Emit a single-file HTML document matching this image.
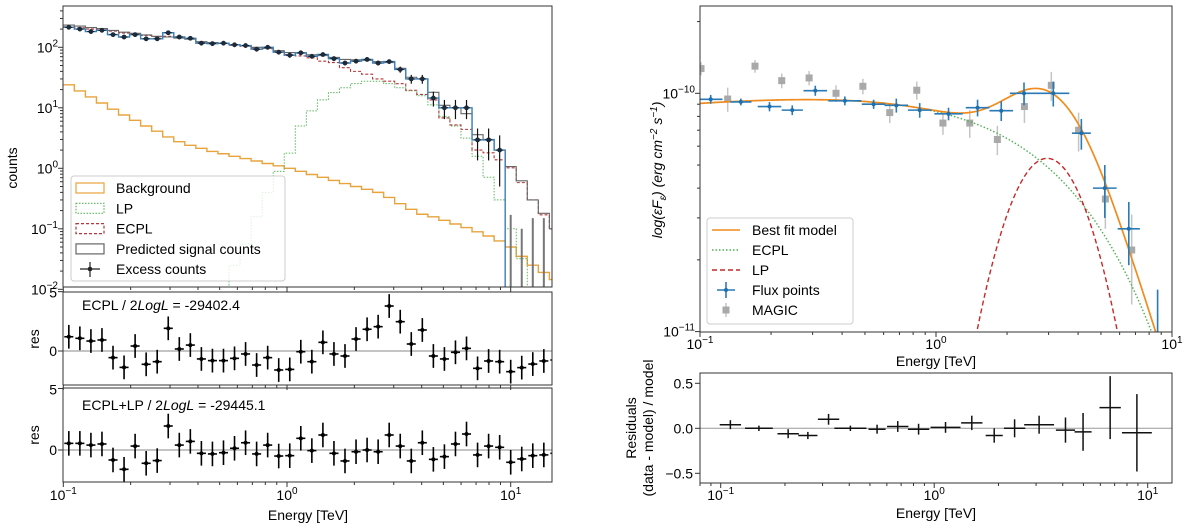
<!DOCTYPE html>
<html><head><meta charset="utf-8"><style>
html,body{margin:0;padding:0;background:#fff}
svg{display:block;font-family:"Liberation Sans","DejaVu Sans",sans-serif}
</style></head><body>
<svg id="fig" width="1200" height="528" viewBox="0 0 1200 528" xmlns="http://www.w3.org/2000/svg">
<defs>
<clipPath id="cM"><rect x="63" y="6" width="489" height="281"/></clipPath>
<clipPath id="cR1"><rect x="63" y="292" width="489" height="93"/></clipPath>
<clipPath id="cR2"><rect x="63" y="388" width="489" height="94"/></clipPath>
<clipPath id="cF"><rect x="700" y="6" width="472" height="326"/></clipPath>
<clipPath id="cFR"><rect x="700" y="373" width="472" height="110"/></clipPath>
</defs>
<g id="root"></g>
</svg>
<script>
// ---------- Left panel data (counts per bin, log bins from 0.1 TeV) ----------
const binsPerDecade = 20.25;
const excessCounts = [214,200,182,191,162,148,162,138,138,174,148,141,117,115,117,110,107,93,100,83,74,81,71,76,65,55,59,63,55,58,43,30,30,14.5,10,10,10,2.95,2.95,2.0,-0.5,-0.6,-0.5,-0.55,-0.5,-0.5];
const excessErrors = [16,15,14,14,13,12,13,11,11,13,12,11,10,10,10,9,9,8,8,7,7,7,6,6,6,5,5,5,5,5,5,5,5,4,3.5,3.5,3.5,1.6,1.6,1.5,0.67,0.7,0.65,0.7,0.6,0.6];
const predictedCounts = [233,224,212,204,190,178,170,160,152,148,142,136,124,120,116,110,106,100,96,88,82,80,75,73,68,63,62,61,58,56,45,32,30,18,11,10,8,3.6,3.0,2.0,1.07,0.62,0.30,0.18,0.10,0.08];
const ecplCounts = [218,210,200,195,185,172,166,157,150,152,146,140,122,118,115,108,104,98,95,85,76,72,67,59,56,46,40,36,30,27.5,25,19.5,16.6,13.5,6.8,5.2,4.4,2.0,1.8,1.38,1.02,0.58,0.30,0.17,0.10,0.08];
const lpCounts = [0,0,0,0,0,0,0,0,0,0,0,0,0,0,0.004,0.025,0.056,0.158,0.40,0.89,1.78,5.0,8.9,13.5,17.8,21.4,25.1,27.5,27.5,25.1,21.4,19.1,15.8,11.2,7.1,5.0,3.16,1.58,0.71,0.30,0.10,0.032,0.006,0.001,0,0];
const bkgCounts = [24,19,15.1,12,9.5,7.6,6.2,5.0,4.1,3.3,2.75,2.4,2.14,1.9,1.74,1.58,1.45,1.32,1.2,1.1,1.0,0.89,0.79,0.71,0.63,0.56,0.50,0.45,0.40,0.33,0.26,0.21,0.174,0.158,0.138,0.12,0.105,0.089,0.076,0.063,0.05,0.035,0.025,0.019,0.0145,0.008];
const resECPL = [1.2,1.07,0.84,0.93,-0.56,-1.38,0.42,-1.12,-0.9,1.91,0.17,0.5,-0.67,-0.81,-0.81,-0.62,-0.25,-1.18,-0.56,-1.6,-1.55,-0.06,-0.9,0.73,-0.25,-0.42,1.01,1.83,2.05,3.79,2.47,0.59,1.77,-0.42,-0.67,-0.11,0.22,-1.46,-0.84,-0.9,-1.74,-1.4,-1.1,-0.84,-0.76,-0.7];
const resECPLLP = [0.54,0.54,0.4,0.49,-0.81,-1.57,0.32,-1.08,-0.86,1.95,0.4,0.7,-0.27,-0.32,-0.22,0.14,0.59,-0.32,0.4,-0.49,-0.46,0.95,-0.05,1.22,-0.27,-0.89,-0.14,0,-0.14,1.22,0.32,-0.89,0.59,-0.76,-0.54,0.49,1.3,-0.4,0.32,0.22,-1.0,-0.73,-0.46,-0.4,-0.27,-0.25];

// ---------- Right panel data ----------
const fluxE = [0.111,0.149,0.197,0.246,0.308,0.411,0.544,0.679,0.853,1.13,1.50,1.89,2.36,3.14,4.13,5.19,6.56,8.69];
const fluxF = [9.44e-11,9.2e-11,8.8e-11,8.5e-11,1.026e-10,9.3e-11,9.0e-11,8.9e-11,8.5e-11,8.2e-11,8.7e-11,8.45e-11,1.0e-10,1.0e-10,6.8e-11,4.0e-11,2.7e-11,9e-12];
const fluxFerr = [0.4e-11,0.3e-11,0.4e-11,0.4e-11,0.5e-11,0.4e-11,0.4e-11,0.6e-11,0.6e-11,0.5e-11,0.7e-11,0.8e-11,1.1e-11,1.2e-11,1.0e-11,1.0e-11,0.8e-11,0.6e-11];
const fluxEwidth = [0.05,0.045,0.05,0.045,0.05,0.07,0.05,0.05,0.05,0.06,0.05,0.05,0.06,0.068,0.04,0.05,0.047,0.04];
const magicE = [0.101,0.131,0.171,0.222,0.290,0.377,0.49,0.637,0.829,1.07,1.39,1.82,2.37,3.08,4.02,5.22,6.75];
const magicF = [1.27e-10,9.46e-11,1.30e-10,1.13e-10,1.16e-10,1.0e-10,1.07e-10,8.3e-11,1.03e-10,7.5e-11,7.5e-11,6.4e-11,8.8e-11,1.08e-10,7.0e-11,3.6e-11,2.2e-11];
const magicErr = [0.8e-11,1.1e-11,0.8e-11,0.8e-11,0.8e-11,0.8e-11,0.8e-11,0.8e-11,0.9e-11,0.8e-11,1.0e-11,0.9e-11,1.3e-11,1.5e-11,1.3e-11,0.9e-11,0.9e-11];
const ecplParams = [-9.937, 0.0912, 3.1];
const lpParams = [-10.273, 0.471, 8.2];
const resE = [0.111,0.151,0.207,0.256,0.32,0.405,0.54,0.675,0.845,1.13,1.50,1.91,2.38,3.10,4.12,4.98,6.67,8.9];
const resVal = [0.04,0.0,-0.06,-0.08,0.1,0.0,-0.01,0.02,-0.01,0.01,0.06,-0.08,0.0,0.04,-0.02,-0.04,0.23,-0.05];
const resErr = [0.05,0.03,0.05,0.04,0.06,0.03,0.05,0.06,0.06,0.06,0.08,0.08,0.1,0.1,0.14,0.21,0.35,0.43];
const resEwidth = [0.05,0.065,0.05,0.045,0.05,0.075,0.04,0.05,0.05,0.07,0.05,0.04,0.05,0.07,0.045,0.04,0.05,0.07];

// ---------- axes ----------
const L10 = Math.log10;
const xl = e => 63.3 + (L10(e) + 1) * 223.7;
const ym = c => 168.3 - L10(c) * 60.5;
const yr1 = v => 351 - v * 11.87;
const yr2 = v => 450 - v * 12.3;
const xr = e => 700 + (L10(e) + 1) * 236;
const yr = f => 93.3 - (L10(f) + 10) * 238.3;
const xrr = e => 720.7 + (L10(e) + 1) * 213.5;
const yrr = v => 428.3 - v * 90;

const NS = "http://www.w3.org/2000/svg";
const root = document.getElementById('root');
function el(tag, attrs, parent) {
  const e = document.createElementNS(NS, tag);
  for (const k in attrs) e.setAttribute(k, attrs[k]);
  (parent || root).appendChild(e);
  return e;
}
function grp(name, clip) {
  const g = el('g', clip ? {'clip-path': 'url(#' + clip + ')'} : {});
  
  
  return g;
}
function pow10Label(x, y, exp, anchor, g, name) {
  const t = el('text', {x: x, y: y, 'font-size': 14, 'text-anchor': anchor, fill: '#000'}, g);
  
  
  const a = el('tspan', {}, t); a.textContent = '10';
  const b = el('tspan', {dy: -6, 'font-size': 10}, t); b.textContent = exp;
  return t;
}
function edge(i) { return Math.pow(10, -1 + i / binsPerDecade); }
const yClamp = c => c > 0 ? ym(c) : 300;

// ---------- LEFT MAIN ----------
function stepPath(vals, xf, yf, n) {
  let d = '';
  for (let i = 0; i < n; i++) {
    const y = yf(vals[i]);
    if (i === 0) d += 'M' + xf(edge(0)) + ',' + y;
    else d += 'V' + y;
    d += 'H' + xf(edge(i + 1));
  }
  return d;
}
const gM = grp('counts-plot-area', 'cM');
let p;
p = el('path', {d: stepPath(bkgCounts, xl, yClamp, bkgCounts.length), fill: 'none', stroke: '#e8a33d', 'stroke-width': 1.4}, gM);
 
p = el('path', {d: stepPath(lpCounts, xl, yClamp, lpCounts.length), fill: 'none', stroke: '#5cb85c', 'stroke-width': 1, 'stroke-dasharray': '1.5,1.5'}, gM);
 
p = el('path', {d: stepPath(ecplCounts, xl, yClamp, ecplCounts.length), fill: 'none', stroke: '#b5363a', 'stroke-width': 1.1, 'stroke-dasharray': '3,2'}, gM);
 
p = el('path', {d: stepPath(predictedCounts, xl, yClamp, predictedCounts.length), fill: 'none', stroke: '#666', 'stroke-width': 1.1}, gM);
 
p = el('path', {d: stepPath(excessCounts, xl, yClamp, 40) + 'V300', fill: 'none', stroke: '#3a7fb8', 'stroke-width': 1.4}, gM);
 
for (let i = 0; i < excessCounts.length; i++) {
  const c = excessCounts[i], er = excessErrors[i];
  const xc = xl(Math.pow(10, -1 + (i + 0.5) / binsPerDecade));
  const top = ym(c + er), bot = (c - er) > 0 ? ym(c - er) : 300;
  const col = c > 0 ? '#111' : '#777';
  const ln = el('line', {x1: xc, x2: xc, y1: top, y2: bot, stroke: col, 'stroke-width': c > 0 ? 1.2 : 2}, gM);
   
  if (c > 0) {
    const h = el('line', {x1: xl(edge(i)) + 2, x2: xl(edge(i + 1)) - 2, y1: ym(c), y2: ym(c), stroke: '#111', 'stroke-width': 1}, gM);
     
    const dot = el('circle', {cx: xc, cy: ym(c), r: 2.4, fill: '#1c2b3a'}, gM);
     
  }
}

// ---------- left residual panels ----------
function resPanel(vals, yf, clip, name) {
  const g = grp(name, clip);
  const z = el('line', {x1: 63, x2: 552, y1: yf(0), y2: yf(0), stroke: '#888', 'stroke-width': 1}, g);
   
  for (let i = 0; i < vals.length; i++) {
    const xc = xl(Math.pow(10, -1 + (i + 0.5) / binsPerDecade));
    const v = el('line', {x1: xc, x2: xc, y1: yf(vals[i] + 1), y2: yf(vals[i] - 1), stroke: '#000', 'stroke-width': 1.6}, g);
     
    const h = el('line', {x1: xl(edge(i)) + 1, x2: xl(edge(i + 1)) - 1, y1: yf(vals[i]), y2: yf(vals[i]), stroke: '#000', 'stroke-width': 1.6}, g);
     
    const d = el('circle', {cx: xc, cy: yf(vals[i]), r: 2, fill: '#000'}, g);
     
  }
}
resPanel(resECPL, yr1, 'cR1', 'ecpl-residuals');
resPanel(resECPLLP, yr2, 'cR2', 'ecpl-lp-residuals');

// ---------- RIGHT MAIN ----------
const gF = grp('sed-plot-area', 'cF');
function ecplF(e) { return Math.pow(10, ecplParams[0] + ecplParams[1] * L10(e) - e / ecplParams[2] * Math.LOG10E); }
function lpF(e) { const d = L10(e) - lpParams[1]; return Math.pow(10, lpParams[0] - lpParams[2] * d * d); }
function curve(f, stroke, dash, w, name) {
  let d = '';
  for (let k = 0; k <= 400; k++) {
    const e = Math.pow(10, -1 + k * 2.05 / 400);
    const v = f(e);
    let y = v > 0 ? yr(v) : 400; if (y > 400) y = 400;
    d += (k ? 'L' : 'M') + xr(e).toFixed(2) + ',' + y.toFixed(2);
  }
  const pth = el('path', {d: d, fill: 'none', stroke: stroke, 'stroke-width': w, 'stroke-dasharray': dash}, gF);
   
}
for (let i = 0; i < magicE.length; i++) {
  const x = xr(magicE[i]);
  const v = el('line', {x1: x, x2: x, y1: yr(magicF[i] + magicErr[i]), y2: yr(magicF[i] - magicErr[i]), stroke: '#c4c4c4', 'stroke-width': 1.5}, gF);
   
  const s = el('rect', {x: x - 3.5, y: yr(magicF[i]) - 3.5, width: 7, height: 7, fill: '#a9a9a9'}, gF);
   
}
curve(ecplF, '#4caf50', '1.5,2', 1.4, 'ecpl-model-curve');
curve(lpF, '#c62828', '5,3', 1.4, 'lp-model-curve');
curve(e => ecplF(e) + lpF(e), '#f08c1e', '', 1.7, 'best-fit-curve');
for (let i = 0; i < fluxE.length; i++) {
  const x = xr(fluxE[i]), y = yr(fluxF[i]);
  const lo = Math.pow(10, L10(fluxE[i]) - fluxEwidth[i]), hi = Math.pow(10, L10(fluxE[i]) + fluxEwidth[i]);
  const h = el('line', {x1: xr(lo), x2: xr(hi), y1: y, y2: y, stroke: '#2a7ab5', 'stroke-width': 1.6}, gF);
   
  const v = el('line', {x1: x, x2: x, y1: yr(fluxF[i] + fluxFerr[i]), y2: yr(fluxF[i] - fluxFerr[i]), stroke: '#2a7ab5', 'stroke-width': 1.6}, gF);
   
  const d = el('circle', {cx: x, cy: y, r: 2, fill: '#1f6fae'}, gF);
   
}

// ---------- right residuals ----------
const gFR = grp('sed-residuals', 'cFR');
let zl = el('line', {x1: 700, x2: 1172, y1: yrr(0), y2: yrr(0), stroke: '#999', 'stroke-width': 1}, gFR);
 
for (let i = 0; i < resE.length; i++) {
  const x = xrr(resE[i]), y = yrr(resVal[i]);
  const lo = Math.pow(10, L10(resE[i]) - resEwidth[i]), hi = Math.pow(10, L10(resE[i]) + resEwidth[i]);
  const h = el('line', {x1: xrr(lo), x2: xrr(hi), y1: y, y2: y, stroke: '#111', 'stroke-width': 1.5}, gFR);
   
  const v = el('line', {x1: x, x2: x, y1: yrr(resVal[i] + resErr[i]), y2: yrr(resVal[i] - resErr[i]), stroke: '#111', 'stroke-width': 1.5}, gFR);
   
}

// ---------- frames & ticks ----------
function frame(x, y, w, h, name) {
  const r = el('rect', {x: x, y: y, width: w, height: h, fill: 'none', stroke: '#333', 'stroke-width': 1});
   
}
frame(63, 6, 489, 281, 'counts-axes-frame');
frame(63, 292, 489, 93, 'res1-axes-frame');
frame(63, 388, 489, 94, 'res2-axes-frame');
frame(700, 6, 472, 326, 'sed-axes-frame');
frame(700, 373, 472, 110, 'sed-res-axes-frame');

const gT = grp('ticks');
function tk(x1, y1, x2, y2, w) { el('line', {x1: x1, y1: y1, x2: x2, y2: y2, stroke: '#333', 'stroke-width': w || 1}, gT); }
function logXTicks(xf, lo, hi, yBase) {
  for (let d = -2; d <= 1; d++) for (let m = 1; m <= 9; m++) {
    const e = m * Math.pow(10, d);
    if (e < lo || e > hi) continue;
    const x = xf(e);
    tk(x, yBase, x, yBase + (m === 1 ? 5 : 3));
  }
}
logXTicks(xl, 0.1, 15, 287); logXTicks(xl, 0.1, 15, 385); logXTicks(xl, 0.1, 15, 482);
logXTicks(xr, 0.1, 10.3, 332); logXTicks(xrr, 0.08, 13, 483);
for (let d = -2; d <= 2; d++) for (let m = 1; m <= 9; m++) {
  const c = m * Math.pow(10, d); const y = ym(c);
  if (y < 6 || y > 290) continue;
  tk(63, y, 63 - (m === 1 ? 5 : 3), y);
}
[2, 1, 0, -1, -2].forEach(d => pow10Label(58, ym(Math.pow(10, d)) + 5, d < 0 ? '\u2212' + (-d) : '' + d, 'end', root, 'y-tick-label'));
tk(63, yr1(0), 58, yr1(0)); tk(63, yr1(5), 58, yr1(5));
tk(63, yr2(0), 58, yr2(0)); tk(63, yr2(5), 58, yr2(5));
for (let d = -11; d <= -10; d++) for (let m = 1; m <= 9; m++) {
  const f = m * Math.pow(10, d); const y = yr(f);
  if (y < 6 || y > 333) continue;
  tk(700, y, 700 - (m === 1 ? 5 : 3), y);
}
[0.5, 0, -0.5].forEach(v => tk(700, yrr(v), 695, yrr(v)));

function txt(x, y, s, attrs, name) {
  const a = Object.assign({x: x, y: y, 'font-size': 14, fill: '#000'}, attrs || {});
  const t = el('text', a); t.textContent = s;
   
  return t;
}
pow10Label(xr(0.1), 349, '\u22121', 'middle', root, 'x-tick-label');
pow10Label(xr(1), 349, '0', 'middle', root, 'x-tick-label');
pow10Label(xr(10), 349, '1', 'middle', root, 'x-tick-label');
txt(936, 366, 'Energy [TeV]', {'text-anchor': 'middle'}, 'sed-x-axis-title');
pow10Label(695, yr(1e-10) + 5, '\u221210', 'end', root, 'y-tick-label');
pow10Label(695, yr(1e-11) + 5, '\u221211', 'end', root, 'y-tick-label');
pow10Label(xrr(0.1), 500, '\u22121', 'middle', root, 'x-tick-label');
pow10Label(xrr(1), 500, '0', 'middle', root, 'x-tick-label');
pow10Label(xrr(10), 500, '1', 'middle', root, 'x-tick-label');
txt(936, 518, 'Energy [TeV]', {'text-anchor': 'middle'}, 'sed-res-x-axis-title');
txt(693, yrr(0.5) + 5, '0.5', {'text-anchor': 'end'}, 'y-tick-label');
txt(693, yrr(0) + 5, '0.0', {'text-anchor': 'end'}, 'y-tick-label');
txt(693, yrr(-0.5) + 5, '\u22120.5', {'text-anchor': 'end'}, 'y-tick-label');
pow10Label(xl(0.1), 500, '\u22121', 'middle', root, 'x-tick-label');
pow10Label(xl(1), 500, '0', 'middle', root, 'x-tick-label');
pow10Label(xl(10), 500, '1', 'middle', root, 'x-tick-label');
txt(308, 520, 'Energy [TeV]', {'text-anchor': 'middle'}, 'x-axis-title');
txt(57, yr1(0) + 5, '0', {'text-anchor': 'end'}, 'y-tick-label');
txt(57, yr1(5) + 6, '5', {'text-anchor': 'end'}, 'y-tick-label');
txt(57, yr2(0) + 5, '0', {'text-anchor': 'end'}, 'y-tick-label');
txt(57, yr2(5) + 6, '5', {'text-anchor': 'end'}, 'y-tick-label');
txt(17, 168, 'counts', {transform: 'rotate(-90 17 168)', 'text-anchor': 'middle'}, 'y-axis-title');
txt(39, 339, 'res', {transform: 'rotate(-90 39 339)', 'text-anchor': 'middle'}, 'res1-y-axis-title');
txt(39, 435, 'res', {transform: 'rotate(-90 39 435)', 'text-anchor': 'middle'}, 'res2-y-axis-title');
let t1 = txt(82, 310, 'ECPL / 2', {}, 'ecpl-loglike-label');
let ts = el('tspan', {'font-style': 'italic'}, t1); ts.textContent = 'LogL';
ts = el('tspan', {}, t1); ts.textContent = ' = -29402.4';
t1 = txt(82, 410, 'ECPL+LP / 2', {}, 'ecpl-lp-loglike-label');
ts = el('tspan', {'font-style': 'italic'}, t1); ts.textContent = 'LogL';
ts = el('tspan', {}, t1); ts.textContent = ' = -29445.1';
let yl = txt(662, 170, '', {transform: 'rotate(-90 662 170)', 'text-anchor': 'middle', 'font-style': 'italic'}, 'sed-y-axis-title');
[['log(\u03b5F', 0], ['\u03b5', 4], [') (erg cm', -4], ['\u22122', -5], [' s', 5], ['\u22121', -5], [')', 5]].forEach(([s, dy], k) => {
  const sp = el('tspan', {dy: dy}, yl);
  if (k === 1 || k === 3 || k === 5) sp.setAttribute('font-size', 10);
  sp.textContent = s;
});
txt(636, 428, 'Residuals', {transform: 'rotate(-90 636 428)', 'text-anchor': 'middle'}, 'sed-res-y-title-1');
txt(653, 428, '(data - model) / model', {transform: 'rotate(-90 653 428)', 'text-anchor': 'middle'}, 'sed-res-y-title-2');

// ---------- legends ----------
const lg1 = grp('counts-legend');
el('rect', {x: 71, y: 176, width: 214, height: 105, rx: 3, fill: 'rgba(255,255,255,0.8)', stroke: '#ccc'}, lg1);
const lgItems1 = [['Background', '#e8a33d', ''], ['LP', '#5cb85c', '1.5,1.5'], ['ECPL', '#b5363a', '3,2'], ['Predicted signal counts', '#666', '']];
lgItems1.forEach(([s, c, dash], k) => {
  const y = 188 + k * 20.3;
  const r = el('rect', {x: 76, y: y - 5, width: 28, height: 10, fill: 'none', stroke: c, 'stroke-width': 1.2, 'stroke-dasharray': dash}, lg1);
   
  const t = el('text', {x: 116, y: y + 5, 'font-size': 14}, lg1); t.textContent = s;
   
});
el('line', {x1: 80, x2: 100, y1: 269, y2: 269, stroke: '#222', 'stroke-width': 1.2}, lg1);
el('line', {x1: 90, x2: 90, y1: 262, y2: 277, stroke: '#222', 'stroke-width': 1.2}, lg1);
el('circle', {cx: 90, cy: 269, r: 2.3, fill: '#222'}, lg1);
let lt = el('text', {x: 116, y: 274, 'font-size': 14}, lg1); lt.textContent = 'Excess counts';
 

const lg2 = grp('sed-legend');
el('rect', {x: 707, y: 218, width: 146, height: 106, rx: 3, fill: 'rgba(255,255,255,0.8)', stroke: '#ccc'}, lg2);
const lgItems2 = [['Best fit model', '#f08c1e', ''], ['ECPL', '#4caf50', '1.5,2'], ['LP', '#c62828', '5,3']];
lgItems2.forEach(([s, c, dash], k) => {
  const y = 230 + k * 20;
  el('line', {x1: 712, x2: 740, y1: y, y2: y, stroke: c, 'stroke-width': 1.6, 'stroke-dasharray': dash}, lg2);
  const t = el('text', {x: 752, y: y + 5, 'font-size': 14}, lg2); t.textContent = s;
   
});
el('line', {x1: 717, x2: 735, y1: 290, y2: 290, stroke: '#2a7ab5', 'stroke-width': 1.6}, lg2);
el('line', {x1: 726, x2: 726, y1: 282, y2: 298, stroke: '#2a7ab5', 'stroke-width': 1.6}, lg2);
el('circle', {cx: 726, cy: 290, r: 2, fill: '#1f6fae'}, lg2);
lt = el('text', {x: 752, y: 295, 'font-size': 14}, lg2); lt.textContent = 'Flux points';
 
el('line', {x1: 726, x2: 726, y1: 303, y2: 317, stroke: '#c4c4c4', 'stroke-width': 1.5}, lg2);
el('rect', {x: 722.5, y: 306.5, width: 7, height: 7, fill: '#a9a9a9'}, lg2);
lt = el('text', {x: 752, y: 315, 'font-size': 14}, lg2); lt.textContent = 'MAGIC';
 
</script>
</body></html>
